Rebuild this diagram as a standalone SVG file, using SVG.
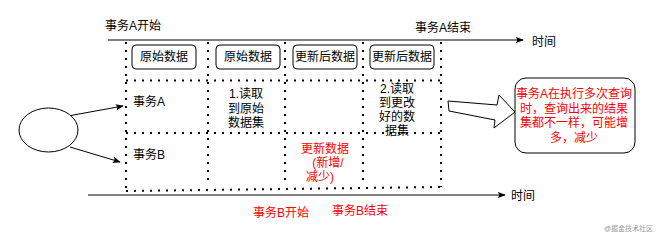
<svg xmlns="http://www.w3.org/2000/svg" width="657" height="236" viewBox="0 0 657 236">
<defs>
<style>
text{font-family:"Liberation Sans","Noto Sans CJK SC",sans-serif;font-size:12px;fill:#000}
.red{fill:#ff0000}
.mid{text-anchor:middle}
.dot{stroke:#000;stroke-width:2;stroke-dasharray:2 6;fill:none}
.box{fill:#fff;stroke:#000;stroke-width:1}
.ln{stroke:#000;stroke-width:1;fill:none}
</style>
<marker id="ah" viewBox="0 0 10 10" refX="9" refY="5" markerWidth="8" markerHeight="8" markerUnits="userSpaceOnUse" orient="auto">
<path d="M0,1 L10,5 L0,9 L2,5 Z" fill="#000"/>
</marker>
</defs>
<rect width="657" height="236" fill="#fff"/>

<g id="grid">
<line class="dot" x1="126" y1="42" x2="126" y2="191"/>
<line class="dot" x1="208" y1="42" x2="208" y2="184"/>
<line class="dot" x1="285" y1="42" x2="285" y2="183"/>
<line class="dot" x1="363" y1="42" x2="363" y2="182"/>
<line class="dot" x1="441" y1="42" x2="441" y2="187"/>
<line class="dot" x1="126" y1="80.5" x2="441" y2="80.5"/>
<line class="dot" x1="126" y1="133" x2="441" y2="133"/>
<line class="dot" x1="126" y1="191" x2="441" y2="187"/>
</g>

<g id="connectors">
<line class="ln" x1="108" y1="40" x2="523" y2="40" marker-end="url(#ah)"/>
<line class="ln" x1="88" y1="195" x2="505" y2="195" marker-end="url(#ah)"/>
<line class="ln" x1="68" y1="116" x2="123" y2="106" marker-end="url(#ah)"/>
<line class="ln" x1="70" y1="147" x2="120" y2="162" marker-end="url(#ah)"/>
<polygon points="448,101 497,105 499,95 515,112 494,128 495,120 449,111" fill="#fff" stroke="#000" stroke-width="1"/>
</g>

<g id="labels">
<text x="105" y="30">事务A开始</text>
<text x="415" y="32">事务A结束</text>
<text x="532" y="46">时间</text>
<text x="511" y="200">时间</text>
<text class="red" x="253" y="217">事务B开始</text>
<text class="red" x="332" y="215">事务B结束</text>
</g>

<g id="ellipse"><ellipse cx="48.5" cy="130" rx="29.5" ry="22" fill="#fff" stroke="#000" stroke-width="1"/></g>

<g id="box1"><rect class="box" x="132" y="45" width="64" height="24" rx="4"/><text class="mid" x="164" y="61">原始数据</text></g>
<g id="box2"><rect class="box" x="216" y="45" width="64" height="24" rx="4"/><text class="mid" x="248" y="61">原始数据</text></g>
<g id="box3"><rect class="box" x="293" y="45" width="64" height="24" rx="4"/><text class="mid" x="325" y="61">更新后数据</text></g>
<g id="box4"><rect class="box" x="370" y="45" width="64" height="24" rx="4"/><text class="mid" x="402" y="61">更新后数据</text></g>

<g id="txA"><text x="133" y="106">事务A</text></g>
<g id="txB"><text x="133" y="159">事务B</text></g>

<g id="read1">
<text class="mid" x="246" y="98">1.读取</text>
<text class="mid" x="246" y="112.5">到原始</text>
<text class="mid" x="246" y="127">数据集</text>
</g>
<g id="read2">
<text class="mid" x="397" y="93">2.读取</text>
<text class="mid" x="397" y="107">到更改</text>
<text class="mid" x="397" y="121">好的数</text>
<text class="mid" x="397" y="135">据集</text>
</g>
<g id="update">
<text class="mid red" x="325" y="153">更新数据</text>
<text class="mid red" x="328" y="167">(新增/</text>
<text class="mid red" x="320" y="181">减少)</text>
</g>

<g id="callout">
<rect class="box" x="515" y="78" width="120" height="75" rx="11"/>
<text class="mid red" x="574" y="98">事务A在执行多次查询</text>
<text class="mid red" x="574" y="112.5">时，查询出来的结果</text>
<text class="mid red" x="574" y="127">集都不一样，可能增</text>
<text class="mid red" x="574" y="141.5">多，减少</text>
</g>

<text x="604" y="231" style="font-size:7px;fill:#999">@掘金技术社区</text>
</svg>
